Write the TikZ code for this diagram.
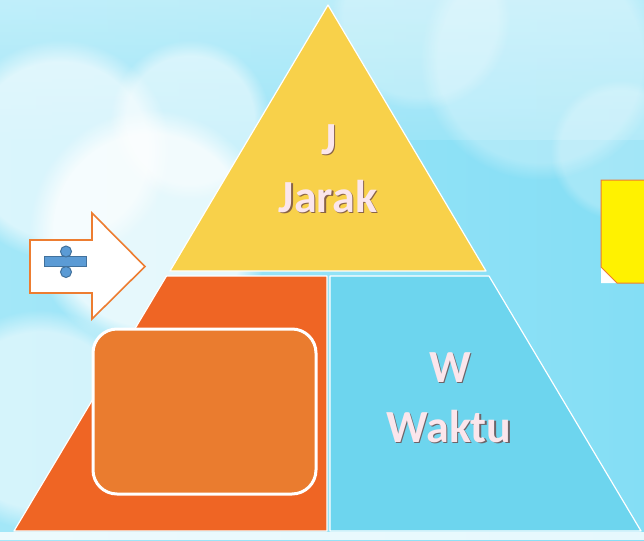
\documentclass[tikz,border=0pt]{standalone}
\usepackage{fontspec}
\setmainfont{Carlito}
\usetikzlibrary{fadings}
\definecolor{skytop}{HTML}{CDF2FB}
\definecolor{skymid}{HTML}{A3E7F8}
\definecolor{skyright}{HTML}{84DEF5}
\definecolor{pyryellow}{HTML}{F8D14A}
\definecolor{pyrorange}{HTML}{EF6524}
\definecolor{boxorange}{HTML}{EA7C2F}
\definecolor{pyrcyan}{HTML}{6DD5EE}
\definecolor{arrowline}{HTML}{ED7D31}
\definecolor{divfill}{HTML}{5B9BD5}
\definecolor{divline}{HTML}{41719C}
\definecolor{labelpink}{HTML}{FBE6EC}
\definecolor{labelshadow}{HTML}{6E4848}
\tikzset{
  cloud/.style={white, opacity=#1, path fading=circle with fuzzy edge 20 percent},
  softcloud/.style={white, opacity=#1, path fading=circle with fuzzy edge 15 percent},
  section/.style={draw=white, line width=1.2pt, line join=round},
  lbl/.style={font=\fontsize{46}{50}\selectfont\bfseries, text=labelpink, anchor=base},
  lblshadow/.style={font=\fontsize{46}{50}\selectfont\bfseries, text=labelshadow, anchor=base, opacity=0.8}
}
\begin{document}
\begin{tikzpicture}[x=1pt,y=-1pt]
\useasboundingbox (0,0) rectangle (644,540);

% sky
\shade[left color=skymid, right color=skyright] (0,0) rectangle (644,540);
\shade[top color=skytop, bottom color=skymid, opacity=0.7] (0,0) rectangle (644,140);

% soft clouds
\fill[cloud=0.75] (150,230) circle (120);
\fill[cloud=0.6] (60,150) circle (110);
\fill[cloud=0.55] (40,420) circle (110);
\fill[cloud=0.5] (190,120) circle (80);
\fill[softcloud=0.3] (540,60) circle (120);
\fill[softcloud=0.25] (420,20) circle (90);
\fill[softcloud=0.25] (620,150) circle (70);

% strip along the bottom edge
\fill[white, opacity=0.8] (0,532) rectangle (644,540);

% pyramid sections
\fill[section, fill=pyryellow] (328,5) -- (486,271) -- (170,271) -- cycle;
\fill[section, fill=pyrorange] (166.5,276) -- (327,276) -- (327,531) -- (14,531) -- cycle;
\fill[section, fill=pyrcyan] (330,276) -- (489,276) -- (641,531) -- (330,531) -- cycle;

% rounded box on the orange section
\draw[white, line width=3pt, fill=boxorange, rounded corners=24pt]
  (93,329) rectangle (316,494);

% labels
\node[lblshadow] (jshadow) at (330.3,155.3) {J};
\node[lbl] (jtop) at (329,154) {J};
\node[lblshadow] (jarakshadow) at (329.3,213.3) {Jarak};
\node[lbl] (jarak) at (328,212) {Jarak};
\node[lblshadow] (wshadow) at (451.3,383.3) {W};
\node[lbl] (wtop) at (450,382) {W};
\node[lblshadow] (waktushadow) at (450.3,443.3) {Waktu};
\node[lbl] (waktu) at (449,442) {Waktu};

% block arrow with division sign
\draw[arrowline, line width=1.6pt, fill=white, line join=miter]
  (30,240) -- (92,240) -- (92,213) -- (145,266.5) -- (92,319) -- (92,293) -- (30,293) -- cycle;
\draw[divline, fill=divfill, line width=1pt] (44.5,256.5) rectangle (86.5,266.5);
\draw[divline, fill=divfill, line width=1pt] (66,251.5) circle (5.5);
\draw[divline, fill=divfill, line width=1pt] (66,272) circle (5.5);

% yellow note at the right edge with clipped corner
\fill[white] (601,267) -- (617,283) -- (601,283) -- cycle;
\draw[arrowline, line width=1pt, fill=yellow]
  (648,180) -- (601,180) -- (601,267) -- (617,283) -- (648,283);
\end{tikzpicture}
\end{document}
